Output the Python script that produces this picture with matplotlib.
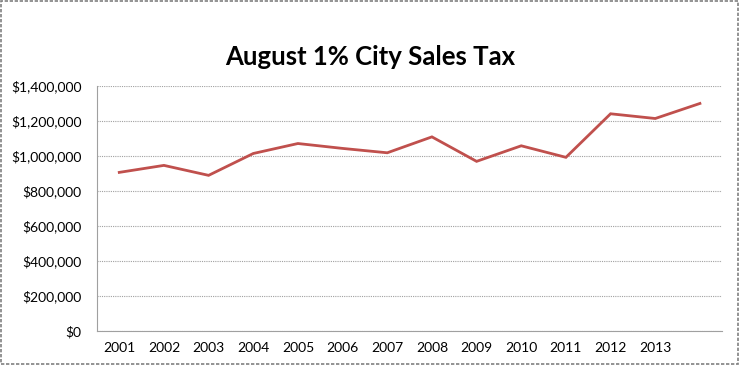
"""August 1% city sales tax line chart"""

import matplotlib
matplotlib.use("Agg")
import matplotlib.pyplot as plt
from matplotlib.patches import Rectangle
from matplotlib.ticker import FuncFormatter

years = ["2001", "2002", "2003", "2004", "2005", "2006", "2007",
         "2008", "2009", "2010", "2011", "2012", "2013", ""]
tax = [907000, 947000, 890000, 1015000, 1072000, 1044000, 1019000,
       1110000, 970000, 1059000, 993000, 1242000, 1215000, 1301000]

plt.rcParams["font.family"] = ["Lato", "DejaVu Sans"]

fig = plt.figure(figsize=(7.4, 3.65), dpi=100)
ax = fig.add_axes([0.131, 0.093, 0.845, 0.671])

x = range(len(tax))
ax.plot(x, tax, color="#C0504D", linewidth=2.0, solid_joinstyle="miter")

ax.set_ylim(0, 1400000)
ax.set_yticks(range(0, 1400001, 200000))
ax.yaxis.set_major_formatter(FuncFormatter(lambda v, _: f"${v:,.0f}"))
ax.set_xlim(-0.5, len(tax) - 0.5)
ax.set_xticks(range(len(years) - 1))
ax.set_xticklabels(years[:-1])

ax.grid(axis="y", color="#a0a0a0", linestyle=(0, (1, 1)), linewidth=0.8)
ax.set_axisbelow(True)
for side in ["top", "right"]:
    ax.spines[side].set_visible(False)
for side in ["left", "bottom"]:
    ax.spines[side].set_color("#a0a0a0")
    ax.spines[side].set_linestyle((0, (1, 1)))
    ax.spines[side].set_linewidth(0.8)

ax.tick_params(length=0, labelsize=10, colors="black")
ax.tick_params(axis="x", pad=8)
ax.tick_params(axis="y", pad=11)

fig.text(0.5, 0.845, "August 1% City Sales Tax", ha="center", va="center",
         fontsize=18.5, fontweight="bold")

# outer chart frame
fig.patches.append(Rectangle((0.002, 0.004), 0.995, 0.992, transform=fig.transFigure,
                             fill=False, edgecolor="#808080", linewidth=1.2,
                             linestyle=(0, (2, 1))))

fig.savefig("out.png", dpi=100, facecolor="w")
